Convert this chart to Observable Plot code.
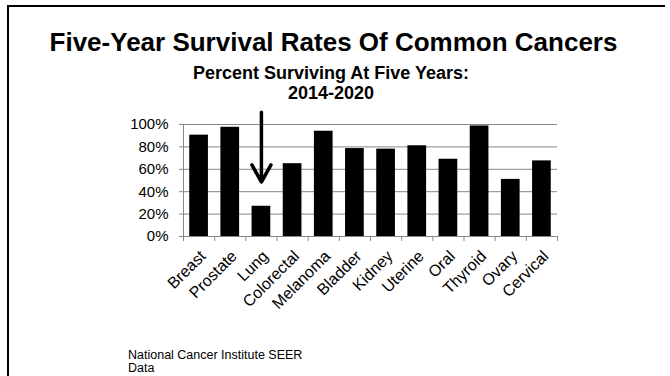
<!DOCTYPE html>
<html>
<head>
<meta charset="utf-8">
<script src="https://cdn.jsdelivr.net/npm/d3@7"></script>
<script src="https://cdn.jsdelivr.net/npm/@observablehq/plot@0.6"></script>
<style>
  html, body { margin: 0; padding: 0; background: #fff; overflow: hidden; }
  #slide {
    position: relative; width: 670px; height: 376px; overflow: hidden;
    font-family: "Liberation Sans", Arial, sans-serif; color: #000;
  }
  .edge { position: absolute; background: #000; }
  #edge-top { left: 7px; top: 5px; width: 658px; height: 2px; }
  #edge-left { left: 7px; top: 5px; width: 2px; height: 371px; }
  #chart { position: absolute; left: 0; top: 0; }
  .title {
    position: absolute; left: 0; width: 667px; top: 28.6px;
    text-align: center; font-weight: bold; font-size: 26px; line-height: 26px;
  }
  .subtitle {
    position: absolute; left: 0; width: 662px; top: 63.2px;
    text-align: center; font-weight: bold; font-size: 18px; line-height: 20px;
  }
  .caption {
    position: absolute; left: 128px; top: 348.5px;
    font-size: 12.5px; line-height: 13.5px;
  }
</style>
</head>
<body>
<div id="slide">
  <div class="edge" id="edge-top"></div>
  <div class="edge" id="edge-left"></div>
  <div id="chart"></div>
  <div class="title">Five-Year Survival Rates Of Common Cancers</div>
  <div class="subtitle">Percent Surviving At Five Years:<br>2014-2020</div>
  <div class="caption">National Cancer Institute SEER<br>Data</div>
</div>
<script>
// Five-year relative survival by cancer site (percent)
const categories = ["Breast", "Prostate", "Lung", "Colorectal", "Melanoma", "Bladder",
                    "Kidney", "Uterine", "Oral", "Thyroid", "Ovary", "Cervical"];
const survival = [90.5, 97.5, 27, 65, 94, 78.5, 78, 81, 69, 98.7, 51, 67.5];
const yTicks = [0, 20, 40, 60, 80, 100];

// Call-out arrow pointing down at the lung bar (percent scale)
const arrowSite = "Lung";
const arrowFrom = 111;
const arrowTo = 48.6;

const gray = "#888";
const n = categories.length;
const slot = (i) => i + 0.5;

const chart = Plot.plot({
  width: 670,
  height: 376,
  marginLeft: 183,
  marginRight: 113,
  marginTop: 124,
  marginBottom: 140,
  style: {
    fontFamily: "'Liberation Sans', Arial, sans-serif",
    fontSize: "15px",
    color: "#000",
    background: "transparent",
    overflow: "visible"
  },
  x: { type: "linear", domain: [0, n] },
  y: { domain: [0, 100] },
  marks: [
    Plot.gridY(yTicks.filter(d => d > 0), { stroke: gray, strokeOpacity: 1, strokeWidth: 1 }),
    Plot.axisY(yTicks, {
      tickSize: 4, tickPadding: 11, stroke: gray, fill: "#000",
      tickFormat: d => d + "%", label: null, fontSize: 15
    }),
    Plot.ruleX([0], { stroke: gray }),
    Plot.ruleY([0], { stroke: gray }),
    Plot.axisX(d3.range(n + 1), {
      tickSize: 5, stroke: gray, tickFormat: () => "", label: null
    }),
    Plot.rectY(categories, {
      x1: (d, i) => i + 0.2,
      x2: (d, i) => i + 0.8,
      y1: 0,
      y2: (d, i) => survival[i],
      fill: "#000"
    }),
    Plot.text(categories, {
      x: (d, i) => slot(i),
      y: 0,
      text: d => d,
      rotate: -45,
      textAnchor: "end",
      lineAnchor: "middle",
      dx: 4,
      dy: 17,
      fontSize: 16,
      fill: "#000"
    }),
    Plot.arrow([arrowSite], {
      x1: d => slot(categories.indexOf(d)),
      x2: d => slot(categories.indexOf(d)),
      y1: () => arrowFrom,
      y2: () => arrowTo,
      stroke: "#000",
      strokeWidth: 3.5,
      headLength: 8.4,
      headAngle: 58
    })
  ]
});

document.getElementById("chart").appendChild(chart);
</script>
</body>
</html>
